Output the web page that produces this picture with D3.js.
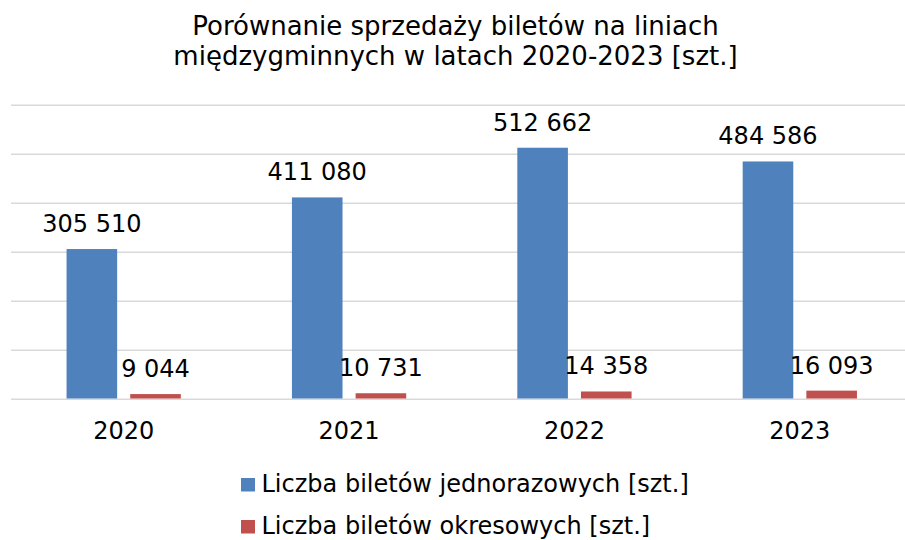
<!DOCTYPE html>
<html>
<head>
<meta charset="utf-8">
<script src="https://cdn.jsdelivr.net/npm/d3@7"></script>
<style>
  html, body { margin: 0; padding: 0; background: #fff; }
  svg { display: block; font-family: "DejaVu Sans", Verdana, sans-serif; }
</style>
</head>
<body>
<svg id="chart" width="905" height="540"></svg>
<script>
// Ticket sales on inter-municipal lines, 2020–2023
const years = ["2020", "2021", "2022", "2023"];
const singleTickets = [305510, 411080, 512662, 484586];
const periodTickets = [9044, 10731, 14358, 16093];
const seriesNames = ["Liczba biletów jednorazowych [szt.]", "Liczba biletów okresowych [szt.]"];
const seriesColors = ["#4F81BD", "#C0504D"];
const gridTicks = [0, 100000, 200000, 300000, 400000, 500000, 600000];
const titleLines = ["Porównanie sprzedaży biletów na liniach", "międzygminnych w latach 2020-2023 [szt.]"];

const series = [singleTickets, periodTickets];
const svg = d3.select("#chart");
const W = 905;

const plot = { left: 11, right: 912.5, top: 105, bottom: 398.5 };

const x = d3.scaleBand().domain(years).range([plot.left, plot.right]).paddingInner(0).paddingOuter(0);
const y = d3.scaleLinear().domain([0, 600000]).range([plot.bottom, plot.top]);

// bar geometry inside each category band
const barW = x.bandwidth() * 0.2245;
const barGap = x.bandwidth() * 0.058;
const groupW = barW * 2 + barGap;
const offset = (x.bandwidth() - groupW) / 2;

const fmt = d => d3.format(",")(d).replace(/,/g, " ");

// title
svg.append("g").selectAll("text").data(titleLines).join("text")
  .attr("x", W / 2 + 3)
  .attr("y", (d, i) => 34.5 + i * 30)
  .attr("text-anchor", "middle")
  .attr("font-size", 26)
  .attr("fill", "#000")
  .text(d => d);

// horizontal gridlines
svg.append("g").selectAll("line").data(gridTicks).join("line")
  .attr("x1", plot.left).attr("x2", W)
  .attr("y1", d => Math.round(y(d)) + 0.25).attr("y2", d => Math.round(y(d)) + 0.25)
  .attr("stroke", "#d9d9d9").attr("stroke-width", 1.5);

// bars
series.forEach((vals, si) => {
  const g = svg.append("g");
  g.selectAll("rect").data(vals).join("rect")
    .attr("x", (d, i) => x(years[i]) + offset + si * (barW + barGap))
    .attr("y", d => y(d))
    .attr("width", barW)
    .attr("height", d => y(0) - y(d))
    .attr("fill", seriesColors[si]);
  // value labels
  g.selectAll("text").data(vals).join("text")
    .attr("x", (d, i) => x(years[i]) + offset + si * (barW + barGap) + barW / 2)
    .attr("y", d => y(d) - 17)
    .attr("text-anchor", "middle")
    .attr("font-size", 24)
    .attr("fill", "#000")
    .text(fmt);
});

// category axis labels
const xAxis = d3.axisBottom(x).tickSize(0).tickPadding(0);
const ax = svg.append("g").attr("transform", `translate(0,${plot.bottom})`).call(xAxis);
ax.select(".domain").remove();
ax.selectAll("text")
  .attr("font-size", 24)
  .attr("font-family", "DejaVu Sans, Verdana, sans-serif")
  .attr("fill", "#000")
  .attr("dy", 0)
  .attr("y", 40.5);

// legend
const legend = svg.append("g").selectAll("g").data(seriesNames).join("g")
  .attr("transform", (d, i) => `translate(241,${478 + i * 42})`);
legend.append("rect").attr("width", 14).attr("height", 13.5).attr("fill", (d, i) => seriesColors[i]);
legend.append("text").attr("x", 20.5).attr("y", 14)
  .attr("font-size", 24).attr("fill", "#000").text(d => d);
</script>
</body>
</html>
